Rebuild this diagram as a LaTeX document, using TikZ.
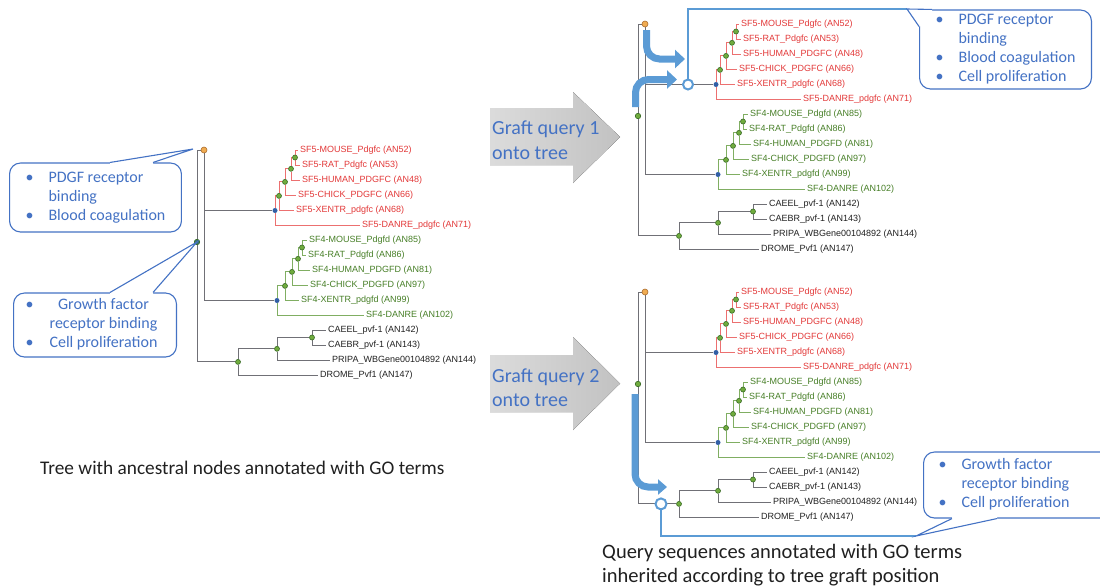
\documentclass[tikz,border=0pt]{standalone}
\usepackage{fontspec}
\setmainfont{Carlito}
\newfontfamily\leaffont{Liberation Sans}
\usepackage{tikz}
\usetikzlibrary{arrows.meta}
\usepackage{xcolor}
\definecolor{ColRed}{RGB}{226,56,56}
\definecolor{ColRedL}{RGB}{236,112,112}
\definecolor{ColGreen}{RGB}{70,126,38}
\definecolor{ColGreenL}{RGB}{128,174,98}
\definecolor{ColGray}{RGB}{112,112,118}
\definecolor{ColCall}{RGB}{68,114,196}
\definecolor{ColGraft}{RGB}{91,155,213}
\definecolor{ColDotG}{RGB}{112,172,62}
\definecolor{ColDotGD}{RGB}{55,105,35}
\definecolor{ColDotB}{RGB}{50,95,165}
\definecolor{ColDotO}{RGB}{240,172,82}
\definecolor{ColDotOD}{RGB}{172,108,44}
\definecolor{ColRoot}{RGB}{58,112,118}
\definecolor{ColText}{RGB}{32,32,32}
\pgfdeclarelayer{back}
\pgfsetlayers{back,main}
\tikzstyle{LeafNode}=[anchor=west,inner xsep=2pt,inner ysep=0pt,font=\leaffont\fontsize{9}{10}\selectfont]
\tikzstyle{LeafRed}=[LeafNode,text=ColRed]
\tikzstyle{LeafGreen}=[LeafNode,text=ColGreen]
\tikzstyle{LeafBlack}=[LeafNode,text=ColText]
\tikzstyle{DotGreen}=[circle,draw=ColDotGD,fill=ColDotG,inner sep=0pt,minimum size=5pt,line width=0.6pt]
\tikzstyle{DotBlue}=[circle,fill=ColDotB,inner sep=0pt,minimum size=5pt]
\tikzstyle{DotOrange}=[circle,draw=ColDotOD,fill=ColDotO,inner sep=0pt,minimum size=6pt,line width=0.6pt]
\tikzstyle{DotRoot}=[circle,draw=ColDotGD,inner sep=0pt,minimum size=5.5pt,line width=0.6pt]
\tikzstyle{EdgeGray}=[ColGray,line width=0.9pt]
\tikzstyle{EdgeRed}=[ColRedL,line width=0.9pt]
\tikzstyle{EdgeGreen}=[ColGreenL,line width=0.9pt]
\tikzstyle{GraftDot}=[circle,draw=ColGraft,fill=white,line width=2pt,inner sep=0pt,minimum size=10pt]
\tikzstyle{GraftLine}=[ColGraft,line width=1.5pt]
\tikzstyle{GraftArrow}=[ColGraft,line width=7pt,rounded corners=13pt,-{Triangle[length=10pt,width=18pt]}]
\tikzstyle{CallBox}=[draw=ColCall,fill=white,rounded corners=11pt,line width=1.1pt,text=ColCall,inner ysep=0pt,font=\fontsize{16}{19}\selectfont]
\tikzstyle{CallLine}=[ColCall,line width=1.1pt,line join=miter]
\tikzstyle{BlockArrow}=[left color=black!14,right color=black!24]
\tikzstyle{ArrowText}=[anchor=west,inner sep=0pt,align=left,text=ColCall,font=\fontsize{20}{24.5}\selectfont]
\tikzstyle{Caption}=[inner sep=0pt,align=left,text=ColText]

% one PANTHER tree, #1 = name prefix, #2 = fill of the root dot
\newcommand{\PantherTree}[2]{%
  \node[LeafRed](#1s5mouse)at(298,150){SF5-MOUSE\_Pdgfc (AN52)};
  \node[LeafRed](#1s5rat)at(300,165){SF5-RAT\_Pdgfc (AN53)};
  \node[LeafRed](#1s5human)at(300,180){SF5-HUMAN\_PDGFC (AN48)};
  \node[LeafRed](#1s5chick)at(296,195){SF5-CHICK\_PDGFC (AN66)};
  \node[LeafRed](#1s5xentr)at(294,210){SF5-XENTR\_pdgfc (AN68)};
  \node[LeafRed](#1s5danre)at(360,225){SF5-DANRE\_pdgfc (AN71)};
  \node[LeafGreen](#1s4mouse)at(307,240){SF4-MOUSE\_Pdgfd (AN85)};
  \node[LeafGreen](#1s4rat)at(306,255){SF4-RAT\_Pdgfd (AN86)};
  \node[LeafGreen](#1s4human)at(310,270){SF4-HUMAN\_PDGFD (AN81)};
  \node[LeafGreen](#1s4chick)at(308,285){SF4-CHICK\_PDGFD (AN97)};
  \node[LeafGreen](#1s4xentr)at(299,300){SF4-XENTR\_pdgfd (AN99)};
  \node[LeafGreen](#1s4danre)at(364,315){SF4-DANRE (AN102)};
  \node[LeafBlack](#1caeel)at(326,330){CAEEL\_pvf-1 (AN142)};
  \node[LeafBlack](#1caebr)at(326,345){CAEBR\_pvf-1 (AN143)};
  \node[LeafBlack](#1pripa)at(330,360){PRIPA\_WBGene00104892 (AN144)};
  \node[LeafBlack](#1drome)at(318,375){DROME\_Pvf1 (AN147)};
  % ancestral nodes
  \node[DotGreen](#1e5)at(295,157.5){};
  \node[DotGreen](#1d5)at(291,168.8){};
  \node[DotGreen](#1c5)at(285,181.9){};
  \node[DotGreen](#1b5)at(279,195.9){};
  \node[DotBlue](#1a5)at(275,210.5){};
  \node[DotGreen](#1e4)at(302,247.5){};
  \node[DotGreen](#1d4)at(298,258.8){};
  \node[DotGreen](#1c4)at(292,271.9){};
  \node[DotGreen](#1b4)at(285,285.9){};
  \node[DotBlue](#1a4)at(277,300.5){};
  \node[DotGreen](#1i)at(312,337.5){};
  \node[DotGreen](#1h)at(277,348.8){};
  \node[DotGreen](#1g)at(238,361.9){};
  \node[DotOrange](#1o)at(204,150){};
  \node[DotRoot,fill=#2](#1r)at(197,242){};
  % branches
  \begin{pgfonlayer}{back}
    \foreach \p/\c in {e5/s5mouse.west,e5/s5rat.west,d5/e5,d5/s5human.west,
      c5/d5,c5/s5chick.west,b5/c5,b5/s5xentr.west,a5/b5,a5/s5danre.west}
      \draw[EdgeRed](#1\p)|-(#1\c);
    \foreach \p/\c in {e4/s4mouse.west,e4/s4rat.west,d4/e4,d4/s4human.west,
      c4/d4,c4/s4chick.west,b4/c4,b4/s4xentr.west,a4/b4,a4/s4danre.west}
      \draw[EdgeGreen](#1\p)|-(#1\c);
    \foreach \p/\c in {i/caeel.west,i/caebr.west,h/i,h/pripa.west,g/h,
      g/drome.west,o/a5,o/a4,r/o,r/g}
      \draw[EdgeGray](#1\p)|-(#1\c);
  \end{pgfonlayer}
}

\begin{document}
\begin{tikzpicture}[x=1pt,y=-1pt]
  \useasboundingbox(0,0)rectangle(1100,587);

  % left tree with annotated ancestors
  \PantherTree{L}{ColRoot}
  \node[CallBox,anchor=west,minimum height=69pt,inner xsep=16pt](cA)at(9,197.5){%
    \begin{tabular}{@{}p{23pt}@{}l@{}}
      \textbullet & PDGF receptor\\
      & binding\\
      \textbullet & Blood coagulation
    \end{tabular}};
  \node[CallBox,anchor=west,minimum height=64pt,inner xsep=12pt](cB)at(13,325){%
    \begin{tabular}{@{}p{24pt}@{}c@{\hspace{7pt}}}
      \textbullet & Growth factor\\
      & receptor binding\\
      \textbullet & Cell proliferation
    \end{tabular}};
  \coordinate(tA)at(193,149);
  \coordinate(tB)at(197,242);
  \fill[white]([xshift=101pt]cA.north west)--(tA)--([xshift=144pt]cA.north west)--++(0,3)--++(-43,0)--cycle;
  \draw[CallLine]([xshift=101pt]cA.north west)--(tA)--([xshift=144pt]cA.north west);
  \fill[white]([xshift=97pt]cB.north west)--(tB)--([xshift=140pt]cB.north west)--++(0,3)--++(-43,0)--cycle;
  \draw[CallLine]([xshift=97pt]cB.north west)--(tB)--([xshift=140pt]cB.north west);
  \node[Caption,anchor=west,font=\fontsize{19.3}{23}\selectfont](capL)at(40,468){Tree with ancestral nodes annotated with GO terms};

  % grey block arrows
  \fill[BlockArrow](490,108)--(573,108)--(573,92)--(620,137)--(573,183)--(573,165)--(490,165)--cycle;
  \node[ArrowText](aq1)at(492,140){Graft query 1\\onto tree};
  \fill[BlockArrow](490,355)--(573,355)--(573,337)--(620,383.5)--(573,430)--(573,412)--(490,412)--cycle;
  \node[ArrowText](aq2)at(492,387.5){Graft query 2\\onto tree};

  % query 1 grafted on the SF5 branch
  \begin{scope}[shift={(441,-126)}]
    \PantherTree{T}{ColDotG}
    \node[GraftDot](q1)at(247,210.5){};
  \end{scope}
  \coordinate(ga1)at(646.5,30);
  \coordinate(gb1)at(685,59);
  \coordinate(ga2)at(635.5,107);
  \coordinate(gb2)at(677,79.5);
  \draw[GraftArrow](ga1)|-(gb1);
  \draw[GraftArrow](ga2)|-(gb2);
  \node[CallBox,anchor=west,minimum height=79pt,inner xsep=16pt](cC)at(919,49.5){%
    \begin{tabular}{@{}p{23pt}@{}l@{}}
      \textbullet & PDGF receptor\\
      & binding\\
      \textbullet & Blood coagulation\\
      \textbullet & Cell proliferation
    \end{tabular}};
  \coordinate(tC)at(907,9);
  \draw[GraftLine](q1.north)|-(tC);
  \fill[white]([yshift=-17pt]cC.north west)--(tC)--([xshift=13pt]cC.north west)--++(0,5)--++(-8,0)--++(0,12)--cycle;
  \draw[CallLine]([yshift=-17pt]cC.north west)--(tC)--([xshift=13pt]cC.north west);

  % query 2 grafted below the root
  \begin{scope}[shift={(441,142)}]
    \PantherTree{B}{ColDotG}
    \node[GraftDot,minimum size=11pt](q2)at(220,361.9){};
  \end{scope}
  \coordinate(ga3)at(635,394);
  \coordinate(gb3)at(667,487);
  \draw[GraftArrow,-{Triangle[length=9pt,width=15pt]}](ga3)|-(gb3);
  \node[CallBox,anchor=west,minimum height=66pt,inner xsep=15pt](cD)at(923,485){%
    \begin{tabular}{@{}p{23pt}@{}p{150pt}@{}}
      \textbullet & Growth factor\\
      & receptor binding\\
      \textbullet & Cell proliferation
    \end{tabular}};
  \coordinate(tD)at(916,536);
  \draw[GraftLine](q2.south)|-(tD);
  \fill[white]([xshift=29pt]cD.south west)--(tD)--([xshift=74pt]cD.south west)--++(0,-3)--++(-45,0)--cycle;
  \draw[CallLine]([xshift=29pt]cD.south west)--(tD)--([xshift=74pt]cD.south west);
  \node[Caption,anchor=west,font=\fontsize{20.5}{24}\selectfont](capR)at(602,565){Query sequences annotated with GO terms\\inherited according to tree graft position};
\end{tikzpicture}
\end{document}
